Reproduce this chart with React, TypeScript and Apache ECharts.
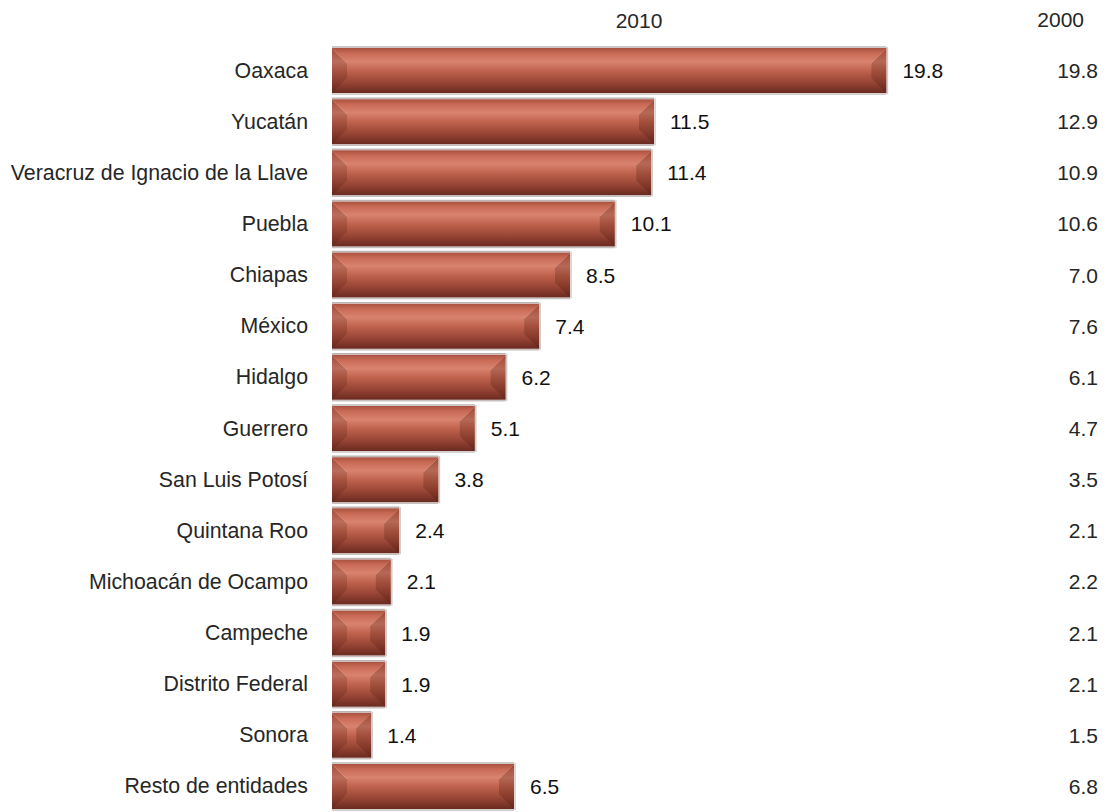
import React, { useEffect, useRef } from "react";
import * as echarts from "echarts";

const categories = [
  "Oaxaca",
  "Yucatán",
  "Veracruz de Ignacio de la Llave",
  "Puebla",
  "Chiapas",
  "México",
  "Hidalgo",
  "Guerrero",
  "San Luis Potosí",
  "Quintana Roo",
  "Michoacán de Ocampo",
  "Campeche",
  "Distrito Federal",
  "Sonora",
  "Resto de entidades",
];
const values2010 = [19.8, 11.5, 11.4, 10.1, 8.5, 7.4, 6.2, 5.1, 3.8, 2.4, 2.1, 1.9, 1.9, 1.4, 6.5];
const values2000 = [19.8, 12.9, 10.9, 10.6, 7.0, 7.6, 6.1, 4.7, 3.5, 2.1, 2.2, 2.1, 2.1, 1.5, 6.8];
const headers = ["2010", "2000"];

const FONT = "'Liberation Sans', Arial, sans-serif";
const BAR_H = 45;

export default function App() {
  const ref = useRef<HTMLDivElement>(null);
  useEffect(() => {
    const chart = echarts.init(ref.current!, null, { renderer: "svg" });
    const barGradient = new echarts.graphic.LinearGradient(0, 0, 0, 1, [
      { offset: 0, color: "#a9513f" },
      { offset: 0.12, color: "#c96b56" },
      { offset: 0.3, color: "#d9836f" },
      { offset: 0.5, color: "#c0634e" },
      { offset: 0.75, color: "#9a4636" },
      { offset: 1, color: "#6a2a20" },
    ]);
    chart.setOption({
      animation: false,
      textStyle: { fontFamily: FONT },
      grid: { left: 332, top: 45, width: 560, height: 770 },
      xAxis: {
        type: "value",
        min: 0,
        max: 20,
        show: false,
      },
      yAxis: [
        {
          type: "category",
          data: categories,
          inverse: true,
          axisLine: { show: false },
          axisTick: { show: false },
          axisLabel: { fontSize: 21.3, color: "#262626", margin: 24, fontFamily: FONT },
        },
        {
          type: "category",
          data: values2000.map((v) => v.toFixed(1)),
          inverse: true,
          position: "right",
          axisLine: { show: false },
          axisTick: { show: false },
          axisLabel: { fontSize: 21, color: "#262626", margin: 206, align: "right", fontFamily: FONT },
        },
      ],
      graphic: [
        {
          type: "text",
          x: 639,
          y: 20,
          style: { text: headers[0], font: `21px ${FONT}`, fill: "#262626", align: "center", verticalAlign: "middle" },
        },
        {
          type: "text",
          x: 1084,
          y: 19,
          style: { text: headers[1], font: `21px ${FONT}`, fill: "#262626", align: "right", verticalAlign: "middle" },
        },
      ],
      series: [
        {
          type: "bar",
          data: values2010,
          barWidth: BAR_H,
          itemStyle: { color: barGradient },
          label: {
            show: true,
            position: "right",
            distance: 16,
            fontSize: 21,
            color: "#111",
            fontFamily: FONT,
            formatter: (p: any) => Number(p.value).toFixed(1),
          },
        },
        {
          type: "custom",
          data: values2010.map((v, i) => [v, i]),
          encode: { x: 0, y: 1 },
          silent: true,
          z: 3,
          renderItem: (params: any, api: any) => {
            const v = api.value(0);
            const idx = api.value(1);
            const s = api.coord([0, idx]);
            const e = api.coord([v, idx]);
            const x0 = s[0];
            const x1 = e[0];
            const y0 = s[1] - BAR_H / 2;
            const y1 = s[1] + BAR_H / 2;
            const b = Math.min(15, (x1 - x0) / 2);
            const bv = 15;
            return {
              type: "group",
              children: [
                {
                  type: "polygon",
                  shape: { points: [[x0, y0], [x0 + b, y0 + bv], [x0 + b, y1 - bv], [x0, y1]] },
                  style: { fill: "rgba(70,20,10,0.2)" },
                },
                {
                  type: "polygon",
                  shape: { points: [[x1, y0], [x1 - b, y0 + bv], [x1 - b, y1 - bv], [x1, y1]] },
                  style: { fill: "rgba(70,20,10,0.24)" },
                },
                {
                  type: "line",
                  shape: { x1: x0, y1: y0 + 0.5, x2: x0 + b, y2: y0 + bv },
                  style: { stroke: "rgba(255,200,185,0.35)", lineWidth: 1 },
                },
                {
                  type: "line",
                  shape: { x1: x1, y1: y0 + 0.5, x2: x1 - b, y2: y0 + bv },
                  style: { stroke: "rgba(255,200,185,0.3)", lineWidth: 1 },
                },
                {
                  type: "line",
                  shape: { x1: x0, y1: y0 - 1, x2: x1, y2: y0 - 1 },
                  style: { stroke: "rgba(160,150,148,0.7)", lineWidth: 1.5 },
                },
                {
                  type: "line",
                  shape: { x1: x0, y1: y1 + 1, x2: x1, y2: y1 + 1 },
                  style: { stroke: "rgba(160,150,148,0.6)", lineWidth: 1.5 },
                },
                {
                  type: "line",
                  shape: { x1: x1 + 1, y1: y0 - 1, x2: x1 + 1, y2: y1 + 1 },
                  style: { stroke: "rgba(160,150,148,0.5)", lineWidth: 1.5 },
                },
              ],
            };
          },
        },
      ],
    });
    return () => chart.dispose();
  }, []);
  return (
    <div
      ref={ref}
      style={{ position: "fixed", left: 0, top: 0, width: 1110, height: 812, background: "#fff" }}
    />
  );
}
